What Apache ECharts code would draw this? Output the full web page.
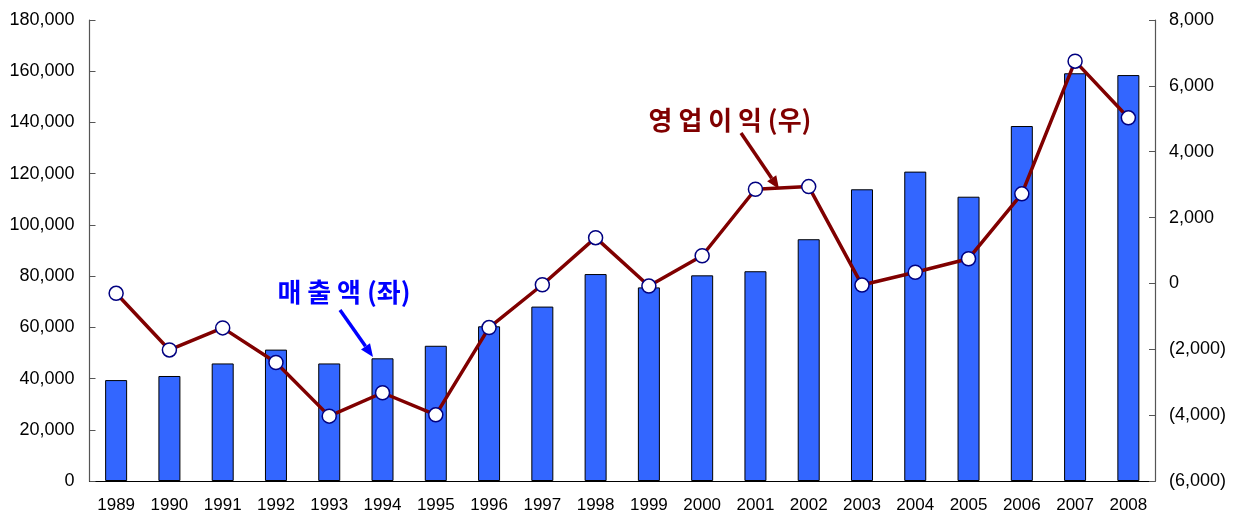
<!DOCTYPE html>
<html>
<head>
<meta charset="utf-8">
<script src="https://cdn.jsdelivr.net/npm/echarts@6/dist/echarts.min.js"></script>
<style>
  html, body { margin: 0; padding: 0; background: #fff; }
  #main { width: 1237px; height: 515px; }
</style>
</head>
<body>
<div id="main"></div>
<script>
// 연도
const years = ['1989','1990','1991','1992','1993','1994','1995','1996','1997','1998',
  '1999','2000','2001','2002','2003','2004','2005','2006','2007','2008']
// 매출액 (좌축)
const sales = [39400, 41000, 45900, 51300, 45900, 47900, 52800, 60400, 68100, 80800,
  75600, 80300, 81900, 94400, 113900, 120800, 111000, 138600, 159200, 158500]
// 영업이익 (우축)
const opProfit = [-300, -2020, -1350, -2400, -4030, -3320, -3990, -1340, -40, 1390,
  -80, 840, 2860, 2940, -50, 340, 750, 2720, 6750, 5030]

const numFmt = n => Math.abs(n).toString().replace(/\B(?=(\d{3})+(?!\d))/g, ',')
const rightFmt = n => n < 0 ? '(' + numFmt(n) + ')' : numFmt(n)

// 화살표 (선 + 머리)
function arrow(x1, y1, x2, y2, color) {
  let dx = x2 - x1, dy = y2 - y1
  let len = Math.sqrt(dx * dx + dy * dy)
  let ux = dx / len, uy = dy / len
  let hl = 13, hw = 5.5
  let bx = x2 - ux * hl, by = y2 - uy * hl
  return {
    type: 'group',
    children: [
      { type: 'line', shape: { x1: x1, y1: y1, x2: bx, y2: by },
        style: { stroke: color, lineWidth: 3.5 } },
      { type: 'polygon',
        shape: { points: [[x2, y2], [bx - uy * hw, by + ux * hw], [bx + uy * hw, by - ux * hw]] },
        style: { fill: color } }
    ]
  }
}

const labelFont = { fontFamily: 'Liberation Sans, Arial, sans-serif', fontSize: 17, color: '#000' }
const yFont = Object.assign({}, labelFont, { fontSize: 18 })
const noteStyle = { fontSize: 26, fontWeight: 'bold', fontFamily: 'Noto Sans CJK KR, sans-serif',
  align: 'center', verticalAlign: 'middle' }

const chart = echarts.init(document.getElementById('main'))
chart.setOption({
  animation: false,
  grid: { left: 89.5, right: 82, top: 20, bottom: 34 },
  xAxis: {
    type: 'category',
    data: years,
    axisLine: { lineStyle: { color: '#000', width: 1.2 } },
    axisTick: { inside: true, length: 6, lineStyle: { color: '#000' } },
    axisLabel: Object.assign({ margin: 16 }, labelFont)
  },
  yAxis: [
    {
      type: 'value', min: 0, max: 180000, interval: 20000,
      axisLine: { show: true, lineStyle: { color: '#555', width: 1.2 } },
      axisTick: { show: true, inside: true, length: 6, lineStyle: { color: '#555' } },
      splitLine: { show: false },
      axisLabel: Object.assign({ margin: 15, formatter: numFmt }, yFont)
    },
    {
      type: 'value', min: -6000, max: 8000, interval: 2000,
      axisLine: { show: true, lineStyle: { color: '#555', width: 1.2 } },
      axisTick: { show: true, inside: true, length: 6, lineStyle: { color: '#555' } },
      splitLine: { show: false },
      axisLabel: Object.assign({ margin: 14, formatter: rightFmt }, yFont)
    }
  ],
  series: [
    {
      name: '매출액',
      type: 'bar',
      data: sales,
      barWidth: 22,
      itemStyle: { color: '#3366ff', borderColor: '#000', borderWidth: 1 }
    },
    {
      name: '영업이익',
      type: 'line',
      yAxisIndex: 1,
      data: opProfit,
      symbol: 'circle',
      symbolSize: 14,
      lineStyle: { color: '#800000', width: 3.5 },
      itemStyle: { color: '#fff', borderColor: '#000080', borderWidth: 1.5 },
      z: 5
    }
  ],
  graphic: [
    { type: 'text', x: 344, y: 292, z: 10,
      style: Object.assign({ text: '매 출 액 (좌)', fill: '#0000ff' }, noteStyle) },
    arrow(340, 310, 373, 357, '#0000ff'),
    { type: 'text', x: 730, y: 120, z: 10,
      style: Object.assign({ text: '영 업 이 익 (우)', fill: '#800000' }, noteStyle) },
    arrow(741, 133, 779, 189, '#800000')
  ]
})
</script>
</body>
</html>
